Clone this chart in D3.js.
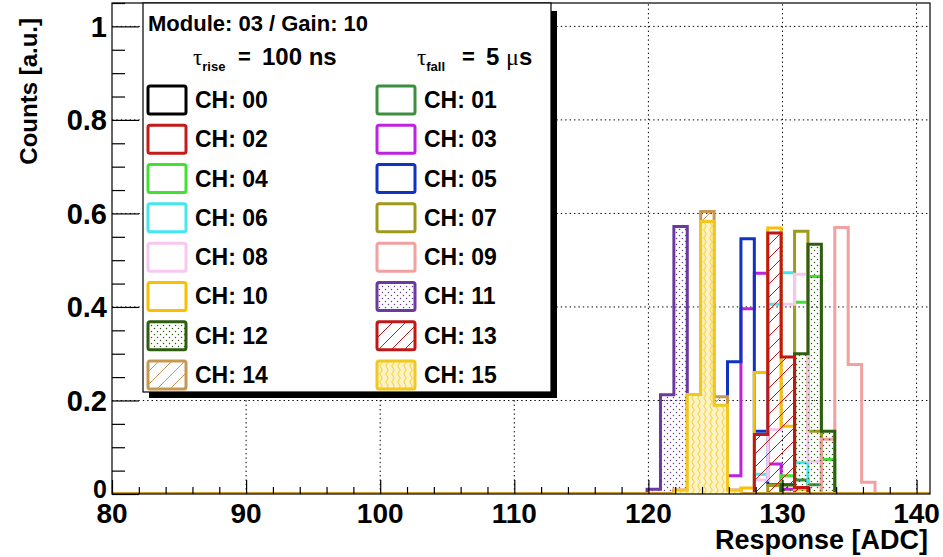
<!DOCTYPE html>
<html>
<head>
<meta charset="utf-8">
<script src="https://cdn.jsdelivr.net/npm/d3@7/dist/d3.min.js"></script>
<style>
  body { margin: 0; background: #fff; }
  svg { display: block; }
  text { font-family: "Liberation Sans", Arial, sans-serif; font-weight: bold; }
</style>
</head>
<body>
<div id="chart"></div>
<script>
// bin edges shared by every channel (ADC)
const binEdges = [119.9, 120.9, 121.9, 122.9, 123.9, 124.9, 125.9, 126.9, 127.9, 128.9,
                  129.9, 130.9, 131.9, 132.9, 133.9, 134.9, 135.9, 136.9, 137.9];

// counts per bin, normalised (bins 120 ... 137)
const ch00 = [0, 0, 0, 0, 0, 0, 0, 0, 0, 0, 0, 0, 0, 0, 0, 0, 0, 0];
const ch01 = [0, 0, 0, 0, 0, 0, 0, 0, 0, 0, 0.02, 0.03, 0.02, 0, 0, 0, 0, 0];
const ch02 = [0, 0, 0.008, 0.008, 0.008, 0.008, 0.008, 0, 0, 0, 0, 0.014, 0, 0, 0, 0, 0, 0];
const ch03 = [0, 0, 0, 0, 0, 0, 0.039, 0.396, 0.472, 0.064, 0.01, 0, 0, 0, 0, 0, 0, 0];
const ch04 = [0, 0, 0, 0, 0, 0, 0, 0, 0, 0, 0.039, 0.41, 0.465, 0.074, 0, 0, 0, 0];
const ch05 = [0, 0, 0, 0, 0, 0.02, 0.283, 0.546, 0.134, 0.02, 0, 0, 0, 0, 0, 0, 0, 0];
const ch06 = [0, 0, 0, 0, 0, 0, 0, 0, 0.042, 0.406, 0.473, 0.067, 0, 0, 0, 0, 0, 0];
const ch07 = [0, 0, 0, 0, 0, 0, 0, 0, 0, 0.018, 0.02, 0.562, 0.134, 0, 0, 0, 0, 0];
const ch08 = [0, 0, 0, 0, 0, 0, 0, 0, 0.03, 0.138, 0.406, 0.47, 0.07, 0, 0, 0, 0, 0];
const ch09 = [0, 0, 0, 0, 0, 0, 0, 0, 0, 0, 0, 0, 0, 0.117, 0.57, 0.277, 0.025, 0];
const ch10 = [0, 0, 0, 0, 0, 0, 0, 0.013, 0.26, 0.569, 0.145, 0.01, 0, 0, 0, 0, 0, 0];
const ch11 = [0.01, 0.212, 0.572, 0.163, 0.015, 0, 0, 0, 0, 0, 0, 0, 0, 0, 0, 0, 0, 0];
const ch12 = [0, 0, 0, 0, 0, 0, 0, 0, 0, 0, 0.02, 0.30, 0.534, 0.134, 0, 0, 0, 0];
const ch13 = [0, 0, 0, 0, 0, 0, 0, 0, 0.127, 0.558, 0.293, 0.014, 0, 0, 0, 0, 0, 0];
const ch14 = [0, 0, 0, 0.2, 0.604, 0.208, 0, 0, 0, 0, 0, 0, 0, 0, 0, 0, 0, 0];
const ch15 = [0, 0, 0.008, 0.213, 0.583, 0.19, 0.008, 0, 0, 0, 0, 0, 0, 0, 0, 0, 0, 0];

const channelCounts = [ch00, ch01, ch02, ch03, ch04, ch05, ch06, ch07,
                       ch08, ch09, ch10, ch11, ch12, ch13, ch14, ch15];
const channelNames = ["CH: 00", "CH: 01", "CH: 02", "CH: 03", "CH: 04", "CH: 05", "CH: 06", "CH: 07",
                      "CH: 08", "CH: 09", "CH: 10", "CH: 11", "CH: 12", "CH: 13", "CH: 14", "CH: 15"];
const channelColors = ["#000000", "#3e8e41", "#c41a1a", "#c020e0", "#44e030", "#1034c0", "#44e6f0", "#a09a1c",
                       "#f8c6f0", "#f2a0a0", "#f8c000", "#6a3aa0", "#2e5e10", "#c01818", "#c89850", "#f0c820"];
const channelFills = [null, null, null, null, null, null, null, null,
                      null, null, null, "dots", "dots", "hatch", "hatch", "wave"];

const xTicks = [80, 90, 100, 110, 120, 130, 140];
const yTicks = [0, 0.2, 0.4, 0.6, 0.8, 1];

const width = 943, height = 557;
const plot = { left: 112, right: 930, top: 3, bottom: 494 };

const svg = d3.select("#chart").append("svg")
    .attr("width", width)
    .attr("height", height);

const x = d3.scaleLinear().domain([80, 141]).range([plot.left, plot.right]);
const y = d3.scaleLinear().domain([0, 1.05]).range([plot.bottom, plot.top]);

// fill patterns (ROOT style)
const defs = svg.append("defs");
defs.append("clipPath").attr("id", "plotClip")
    .append("rect")
    .attr("x", plot.left).attr("y", plot.top)
    .attr("width", plot.right - plot.left).attr("height", plot.bottom - plot.top);

function makePattern(id, type, color) {
    if (type == "dots") {
        const p = defs.append("pattern").attr("id", id)
            .attr("patternUnits", "userSpaceOnUse").attr("width", 6).attr("height", 6);
        p.append("circle").attr("cx", 1.5).attr("cy", 1.5).attr("r", 0.75).attr("fill", color);
        p.append("circle").attr("cx", 4.5).attr("cy", 4.5).attr("r", 0.75).attr("fill", color);
    } else if (type == "hatch") {
        const p = defs.append("pattern").attr("id", id)
            .attr("patternUnits", "userSpaceOnUse").attr("width", 13).attr("height", 13);
        p.append("path").attr("d", "M0,13 L13,0 M-3,3 L3,-3 M10,16 L16,10")
            .attr("stroke", color).attr("stroke-width", 1).attr("fill", "none");
    } else if (type == "wave") {
        const p = defs.append("pattern").attr("id", id)
            .attr("patternUnits", "userSpaceOnUse").attr("width", 6).attr("height", 8);
        p.append("rect").attr("width", 6).attr("height", 8).attr("fill", "#fcf2c4");
        p.append("path").attr("d", "M3,0 Q5.5,2 3,4 Q0.5,6 3,8")
            .attr("stroke", color).attr("stroke-width", 0.9).attr("fill", "none");
    }
}
channelFills.forEach((f, i) => { if (f) makePattern("pat" + i, f, channelColors[i]); });

// grid
const grid = svg.append("g");
xTicks.filter(d => d > 80).forEach(d => {
    grid.append("line")
        .attr("x1", x(d)).attr("x2", x(d))
        .attr("y1", plot.bottom).attr("y2", plot.top)
        .attr("stroke", "#000").attr("stroke-width", 1)
        .attr("stroke-dasharray", "1.4,3");
});
yTicks.filter(d => d > 0).forEach(d => {
    grid.append("line")
        .attr("x1", plot.left).attr("x2", plot.right)
        .attr("y1", y(d)).attr("y2", y(d))
        .attr("stroke", "#000").attr("stroke-width", 1)
        .attr("stroke-dasharray", "1.4,3");
});

// histograms
function stepPath(counts) {
    let p = "M" + x(80) + "," + y(0) + "H" + x(binEdges[0]);
    counts.forEach((c, i) => {
        p += "V" + y(c) + "H" + x(binEdges[i + 1]);
    });
    p += "V" + y(0) + "H" + x(141);
    return p;
}

const hists = svg.append("g").attr("clip-path", "url(#plotClip)");
channelCounts.forEach((counts, i) => {
    const d = stepPath(counts);
    if (channelFills[i]) {
        hists.append("path").attr("d", d + "Z")
            .attr("fill", "url(#pat" + i + ")").attr("stroke", "none");
    }
    hists.append("path").attr("d", d)
        .attr("fill", "none")
        .attr("stroke", channelColors[i])
        .attr("stroke-width", 3)
        .attr("stroke-linejoin", "miter");
});

// frame
svg.append("rect")
    .attr("x", plot.left).attr("y", plot.top)
    .attr("width", plot.right - plot.left).attr("height", plot.bottom - plot.top)
    .attr("fill", "none").attr("stroke", "#000").attr("stroke-width", 1.2);

// axes: ticks drawn inside the frame
const xAxis = d3.axisTop(x)
    .tickValues(d3.range(80, 141, 2))
    .tickSize(7)
    .tickFormat("");
svg.append("g").attr("transform", `translate(0,${plot.bottom})`).call(xAxis)
    .call(g => g.select(".domain").remove())
    .call(g => g.selectAll(".tick line").attr("stroke", "#000").attr("stroke-width", 1.2)
        .attr("y2", d => d % 10 == 0 ? -14 : -7));

const yAxis = d3.axisRight(y)
    .tickValues(d3.range(0, 1.0501, 0.05))
    .tickSize(13)
    .tickFormat("");
svg.append("g").attr("transform", `translate(${plot.left},0)`).call(yAxis)
    .call(g => g.select(".domain").remove())
    .call(g => g.selectAll(".tick line").attr("stroke", "#000").attr("stroke-width", 1.2)
        .attr("x2", d => Math.abs(d * 5 - Math.round(d * 5)) < 1e-6 ? 27 : 13));

// tick labels
svg.append("g").selectAll("text").data(xTicks).enter().append("text")
    .attr("x", d => x(d)).attr("y", 523)
    .attr("text-anchor", "middle")
    .style("font-size", "28px")
    .text(d => d);

svg.append("g").selectAll("text").data(yTicks).enter().append("text")
    .attr("x", 107).attr("y", d => y(d) + (d == 0 ? 4 : 10.5))
    .attr("text-anchor", "end")
    .style("font-size", d => d == 0 ? "25px" : "29px")
    .text(d => d == 0 ? "0" : d == 1 ? "1" : d.toFixed(1));

// axis titles
svg.append("text")
    .attr("x", 928).attr("y", 549)
    .attr("text-anchor", "end")
    .style("font-size", "27px")
    .text("Response [ADC]");

svg.append("text")
    .attr("transform", "translate(37,18) rotate(-90)")
    .attr("text-anchor", "end")
    .style("font-size", "24px")
    .text("Counts [a.u.]");

// legend
const leg = svg.append("g");
leg.append("rect").attr("x", 149).attr("y", 392).attr("width", 408).attr("height", 6).attr("fill", "#000");
leg.append("rect").attr("x", 551).attr("y", 11).attr("width", 6).attr("height", 387).attr("fill", "#000");
leg.append("rect")
    .attr("x", 143).attr("y", 3).attr("width", 408).attr("height", 389)
    .attr("fill", "#fff").attr("stroke", "#000").attr("stroke-width", 1.2);

leg.append("text").attr("x", 148).attr("y", 31)
    .style("font-size", "22px").text("Module: 03 / Gain: 10");

// tau lines: symbol, subscript, "=" and value placed separately
function tauLabel(x0, sub) {
    const t = leg.append("text").attr("x", x0).attr("y", 65).style("font-size", "22px");
    t.append("tspan").style("font-family", "'Liberation Serif', serif").style("font-weight", "normal")
        .style("font-size", "23px").text("\u03c4");
    t.append("tspan").attr("dy", 6).style("font-size", "13px").text(sub);
    leg.append("text").attr("x", x0 + 45).attr("y", 64).style("font-size", "22px").text("=");
}
tauLabel(193, "rise");
leg.append("text").attr("x", 262).attr("y", 65).style("font-size", "24px").text("100 ns");
tauLabel(417, "fall");
const t2 = leg.append("text").attr("x", 486).attr("y", 65).style("font-size", "24px");
t2.append("tspan").text("5 ");
t2.append("tspan").style("font-family", "'Liberation Serif', serif").style("font-weight", "normal")
    .text("\u03bc");
t2.append("tspan").text("s");

const rowY = d3.scaleLinear().domain([0, 7]).range([100, 375]);
channelNames.forEach((name, i) => {
    const col = i % 2, row = Math.floor(i / 2);
    const bx = col == 0 ? 148 : 377;
    const cy = rowY(row);
    if (channelFills[i]) {
        leg.append("rect").attr("x", bx).attr("y", cy - 14).attr("width", 38).attr("height", 28)
            .attr("rx", 2).attr("fill", "url(#pat" + i + ")");
    }
    leg.append("rect").attr("x", bx).attr("y", cy - 14).attr("width", 38).attr("height", 28)
        .attr("rx", 2).attr("fill", "none")
        .attr("stroke", channelColors[i]).attr("stroke-width", 3);
    leg.append("text").attr("x", bx + 47).attr("y", cy + 8)
        .style("font-size", "23px").text(name);
});
</script>
</body>
</html>
